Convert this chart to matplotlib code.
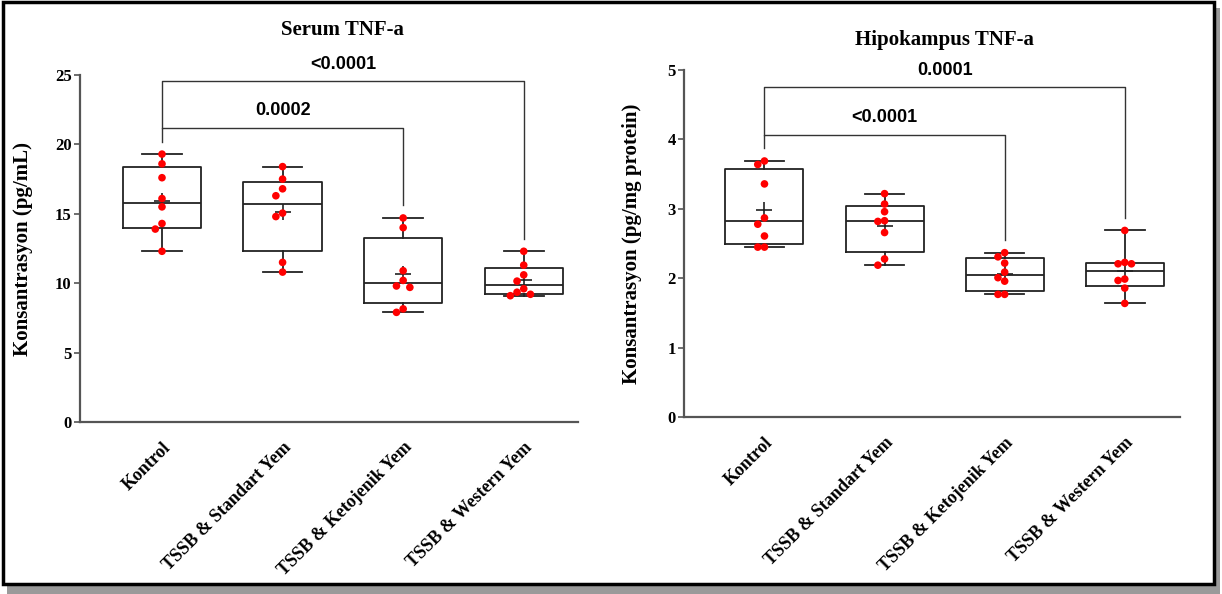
import matplotlib

matplotlib.use("Agg")
import matplotlib.pyplot as plt
import numpy as np
from matplotlib.patches import Rectangle


GROUPS = [
    "Kontrol",
    "TSSB & Standart Yem",
    "TSSB & Ketojenik Yem",
    "TSSB & Western Yem",
]

SERUM_KONTROL = [19.3, 18.6, 17.6, 16.1, 15.5, 14.3, 13.9, 12.3]
SERUM_STANDART = [18.4, 17.5, 16.8, 16.3, 15.05, 14.8, 11.5, 10.8]
SERUM_KETOJENIK = [14.7, 14.0, 10.9, 10.2, 9.8, 9.7, 8.15, 7.9]
SERUM_WESTERN = [12.3, 11.3, 10.6, 10.15, 9.6, 9.35, 9.2, 9.1]

HIPO_KONTROL = [3.69, 3.64, 3.36, 2.87, 2.78, 2.61, 2.45, 2.45]
HIPO_STANDART = [3.22, 3.07, 2.96, 2.83, 2.82, 2.66, 2.28, 2.19]
HIPO_KETOJENIK = [2.37, 2.31, 2.22, 2.09, 2.01, 1.96, 1.77, 1.77]
HIPO_WESTERN = [2.69, 2.23, 2.21, 2.21, 1.99, 1.97, 1.86, 1.64]

# (group a, group b, label, bracket height)
SERUM_TESTS = [(0, 2, "0.0002", 21.2), (0, 3, "<0.0001", 24.55)]
HIPO_TESTS = [(0, 2, "<0.0001", 4.07), (0, 3, "0.0001", 4.75)]

SERIF = "Liberation Serif"
SANS = "Liberation Sans"
LINE = "#222222"
SPINE = "#555555"


def box_stats(values):
    v = np.asarray(values)
    q1, med, q3 = np.percentile(v, [25, 50, 75], method="weibull")
    return {
        "whislo": v.min(),
        "q1": q1,
        "med": med,
        "q3": q3,
        "whishi": v.max(),
        "fliers": [],
    }


def swarm_offsets(ax, values, x, step_px=6.7, diam_px=7.2):
    # simple greedy swarm in pixel space, slots 0, -1, +1, -2, +2
    ys = ax.transData.transform(np.column_stack([np.full(len(values), x), values]))[:, 1]
    order = np.argsort(-np.asarray(values))
    placed = []
    slots = np.zeros(len(values))
    for i in order:
        for k in [0, -1, 1, -2, 2]:
            if all(not (kk == k and abs(ys[i] - yy) < diam_px) for kk, yy in placed):
                break
        placed.append((k, ys[i]))
        slots[i] = k
    x0 = ax.transData.transform((x, 0))[0]
    xs = ax.transData.inverted().transform(
        np.column_stack([x0 + slots * step_px, np.zeros(len(values))])
    )[:, 0]
    return xs


def draw_panel(ax, data, tests, ymax, yticks, title, ylabel, xlim, title_y, labelpad):
    ax.set_xlim(*xlim)
    ax.set_ylim(0, ymax)
    pos = np.arange(len(data))

    ax.bxp(
        [box_stats(d) for d in data],
        positions=pos,
        widths=0.65,
        capwidths=0.33,
        showfliers=False,
        patch_artist=False,
        boxprops=dict(color=LINE, linewidth=1.3),
        whiskerprops=dict(color=LINE, linewidth=1.3),
        capprops=dict(color=LINE, linewidth=1.3),
        medianprops=dict(color=LINE, linewidth=1.3),
        zorder=2,
    )
    for p, d in zip(pos, data):
        ax.plot(p, np.mean(d), marker="+", ms=12, mew=1.2, color=LINE, zorder=3)

    fig = ax.figure
    fig.canvas.draw()
    for p, d in zip(pos, data):
        xs = swarm_offsets(ax, d, p)
        ax.scatter(xs, d, s=30, color="#ff0000", edgecolor="none", zorder=4, clip_on=False)

    gap = 0.036 * ymax
    drawn = []
    for a, b, label, h in tests:
        ends = []
        for g in (a, b):
            low = max(data[g]) + gap
            for a2, b2, hh in drawn:
                if g in (a2, b2):
                    low = max(low, hh)
            ends.append(low)
        ax.plot([a, a, b, b], [ends[0], h, h, ends[1]], color="#333333",
                linewidth=1.0, clip_on=False, zorder=1)
        ax.annotate(label, xy=((a + b) / 2, h), xytext=(0, 6), textcoords="offset points",
                    ha="center", va="bottom", fontsize=13, fontweight="bold",
                    family=SANS, annotation_clip=False)
        drawn.append((a, b, h))

    for side in ["top", "right"]:
        ax.spines[side].set_visible(False)
    for side in ["left", "bottom"]:
        ax.spines[side].set_color(SPINE)
        ax.spines[side].set_linewidth(1.6)

    ax.set_yticks(yticks)
    ax.set_yticklabels([str(t) for t in yticks], fontsize=12, fontweight="bold", family=SERIF)
    ax.tick_params(axis="y", length=4, width=1.2, color=SPINE, pad=2)
    ax.set_xticks(pos)
    ax.set_xticklabels(GROUPS, rotation=45, ha="right", va="top", rotation_mode="anchor",
                       fontsize=13, fontweight="bold", family=SERIF)
    ax.tick_params(axis="x", length=0, pad=12)

    ax.set_ylabel(ylabel, fontsize=15, fontweight="bold", family=SERIF, labelpad=labelpad)
    ax.text(1.5, title_y, title, ha="center", va="center",
            fontsize=15, fontweight="bold", family=SERIF,
            transform=ax.get_xaxis_transform(), clip_on=False)


def main():
    fig = plt.figure(figsize=(12.22, 5.94), dpi=100)

    # frame with drop shadow
    fig.patches.append(Rectangle((7 / 1222, 0.5 / 594), 1213 / 1222, 586 / 594,
                                 transform=fig.transFigure, facecolor="#9a9a9a",
                                 edgecolor="none", zorder=-2))
    fig.patches.append(Rectangle((3 / 1222, 10 / 594), 1211 / 1222, 582 / 594,
                                 transform=fig.transFigure, facecolor="white",
                                 edgecolor="black", linewidth=2.5, zorder=-1))

    ax1 = fig.add_axes([80 / 1222, 1 - 422 / 594, 498 / 1222, 347 / 594])
    ax2 = fig.add_axes([684 / 1222, 1 - 417.3 / 594, 496 / 1222, 347.3 / 594])
    for ax in (ax1, ax2):
        ax.set_facecolor("none")
        ax.set_zorder(1)

    draw_panel(
        ax1,
        [SERUM_KONTROL, SERUM_STANDART, SERUM_KETOJENIK, SERUM_WESTERN],
        SERUM_TESTS,
        25,
        [0, 5, 10, 15, 20, 25],
        "Serum TNF-a",
        "Konsantrasyon (pg/mL)",
        (-0.68, 3.45),
        1.13,
        16,
    )
    draw_panel(
        ax2,
        [HIPO_KONTROL, HIPO_STANDART, HIPO_KETOJENIK, HIPO_WESTERN],
        HIPO_TESTS,
        5,
        [0, 1, 2, 3, 4, 5],
        "Hipokampus TNF-a",
        "Konsantrasyon (pg/mg protein)",
        (-0.67, 3.46),
        1.085,
        18,
    )

    fig.savefig("out.png", dpi=100)
    plt.close(fig)


if __name__ == "__main__":
    main()
